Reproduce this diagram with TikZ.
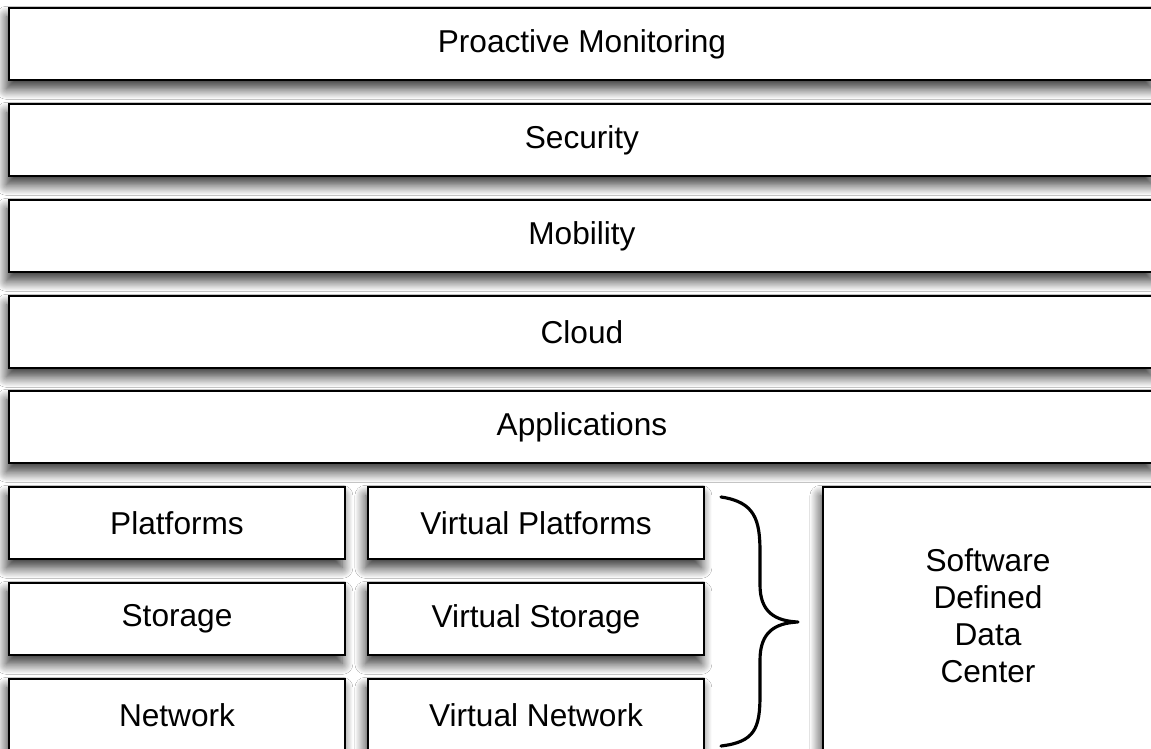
\documentclass[tikz,border=0pt]{standalone}
\usepackage{fontspec}
\setmainfont{Liberation Sans}
\usetikzlibrary{shadows.blur}
\begin{document}
\begin{tikzpicture}[x=0.02cm,y=-0.02cm,
  boxstyle/.style={draw=black, line width=1.2pt, fill=white, inner sep=0pt,
    font=\fontsize{18}{21}\selectfont, anchor=north west,
    blur shadow={shadow xshift=-1.5pt, shadow yshift=-5pt, shadow blur radius=6pt, shadow opacity=80, shadow blur steps=14}},
  band/.style={boxstyle, minimum width=22.92cm, minimum height=1.44cm},
  small/.style={boxstyle, minimum width=6.72cm, minimum height=1.44cm},
  bracestyle/.style={line width=1.8pt, line cap=round, line join=round}
]
\useasboundingbox (0,0) rectangle (1151,749);
\clip (0,0) rectangle (1151,749);
\fill[white] (0,0) rectangle (1151,749);
\node[band] (pm) at (8,7) {Proactive Monitoring};
\node[band] (sec) at (8,103) {Security};
\node[band] (mob) at (8,199) {Mobility};
\node[band] (cloud) at (8,295) {Cloud};
\node[band] (app) at (8,390) {Applications};
\node[small] (plat) at (8,486) {Platforms};
\node[small] (stor) at (8,582) {Storage};
\node[small] (net) at (8,678) {Network};
\node[small] (vplat) at (367,486) {Virtual Platforms};
\node[small] (vstor) at (367,582) {Virtual Storage};
\node[small] (vnet) at (367,678) {Virtual Network};
\node[boxstyle, minimum width=6.68cm, minimum height=5.8cm] (sddc) at (822,486) {};
\node[font=\fontsize{18}{21}\selectfont, align=center, inner sep=0pt] (sddctext) at (988,616) {Software\\Defined\\Data\\Center};
\coordinate (btop) at (721,497);
\coordinate (btip) at (798,622);
\coordinate (bbot) at (721,746);
\draw[bracestyle] (btop) .. controls (755,502) and (760,520) .. (760,552)
  -- (760,585) .. controls (760,612) and (775,621) .. (btip)
  .. controls (775,623) and (760,632) .. (760,660)
  -- (760,695) .. controls (760,728) and (755,742) .. (bbot);
\end{tikzpicture}
\end{document}
